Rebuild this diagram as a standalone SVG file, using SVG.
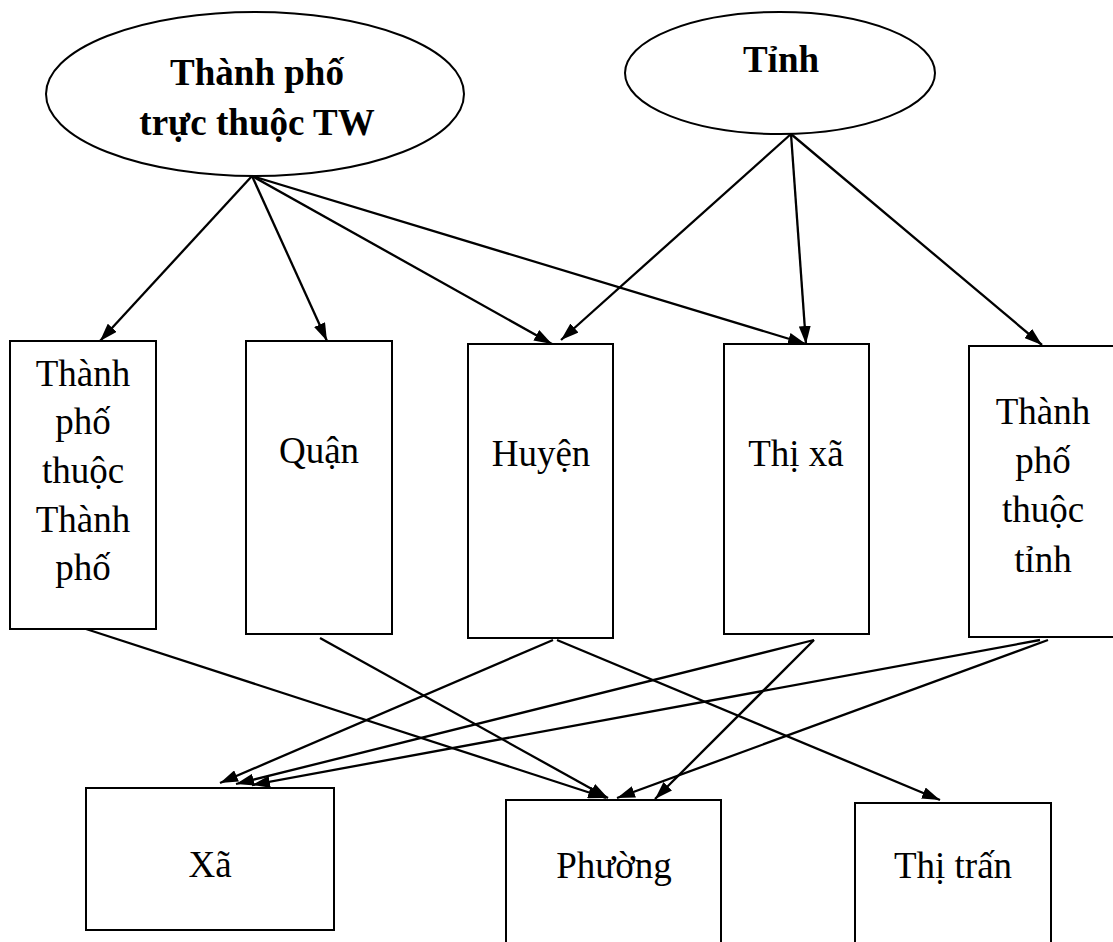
<svg xmlns="http://www.w3.org/2000/svg" width="1113" height="942" viewBox="0 0 1113 942">
<defs>
<marker id="arr" viewBox="0 0 18 12" refX="18" refY="6" markerWidth="18" markerHeight="12" markerUnits="userSpaceOnUse" orient="auto">
<path d="M0,0 L18,6 L0,12 Z" fill="#000"/>
</marker>
<style>
.ell{fill:#fff;stroke:#000;stroke-width:2}
.box{fill:#fff;stroke:#000;stroke-width:2}
.t{font-family:"Liberation Serif","Times New Roman",serif;font-size:37px;fill:#000;text-anchor:middle}
.tb{font-family:"Liberation Serif","Times New Roman",serif;font-size:37px;font-weight:bold;fill:#000;text-anchor:middle}
.c{stroke:#000;stroke-width:2.3;fill:none;marker-end:url(#arr)}
</style>
</defs>
<rect width="1113" height="942" fill="#fff"/>
<g id="tw">
<ellipse class="ell" cx="255" cy="94" rx="209" ry="82"/>
<text class="tb" x="257" y="85">Thành phố</text>
<text class="tb" x="257" y="135">trực thuộc TW</text>
</g>
<g id="tinh">
<ellipse class="ell" cx="780" cy="73" rx="155" ry="61"/>
<text class="tb" x="781" y="72">Tỉnh</text>
</g>
<g id="tp-thuoc-tp">
<rect class="box" x="10" y="341" width="146" height="288"/>
<text class="t" x="83" y="386">Thành</text>
<text class="t" x="83" y="434">phố</text>
<text class="t" x="83" y="483">thuộc</text>
<text class="t" x="83" y="532">Thành</text>
<text class="t" x="83" y="580">phố</text>
</g>
<g id="quan">
<rect class="box" x="246" y="341" width="146" height="293"/>
<text class="t" x="319" y="463">Quận</text>
</g>
<g id="huyen">
<rect class="box" x="468" y="344" width="145" height="294"/>
<text class="t" x="541" y="466">Huyện</text>
</g>
<g id="thixa">
<rect class="box" x="724" y="344" width="145" height="290"/>
<text class="t" x="796" y="466">Thị xã</text>
</g>
<g id="tp-thuoc-tinh">
<rect class="box" x="969" y="346" width="146" height="291"/>
<text class="t" x="1043" y="424">Thành</text>
<text class="t" x="1043" y="473">phố</text>
<text class="t" x="1043" y="522">thuộc</text>
<text class="t" x="1043" y="572">tỉnh</text>
</g>
<g id="xa">
<rect class="box" x="86" y="788" width="248" height="142"/>
<text class="t" x="210" y="877">Xã</text>
</g>
<g id="phuong">
<rect class="box" x="506" y="800" width="215" height="150"/>
<text class="t" x="614" y="878">Phường</text>
</g>
<g id="thitran">
<rect class="box" x="855" y="803" width="196" height="150"/>
<text class="t" x="953" y="878">Thị trấn</text>
</g>
<g id="connectors">
<line class="c" x1="252" y1="176" x2="100" y2="341"/>
<line class="c" x1="252" y1="176" x2="327" y2="341"/>
<line class="c" x1="252" y1="176" x2="552" y2="344"/>
<line class="c" x1="252" y1="176" x2="806" y2="344"/>
<line class="c" x1="791" y1="134" x2="561" y2="340"/>
<line class="c" x1="791" y1="134" x2="806" y2="344"/>
<line class="c" x1="791" y1="134" x2="1042" y2="345"/>
<line class="c" x1="86" y1="629" x2="606" y2="798"/>
<line class="c" x1="320" y1="638" x2="608" y2="798"/>
<line class="c" x1="553" y1="640" x2="220" y2="783"/>
<line class="c" x1="557" y1="640" x2="940" y2="800"/>
<line class="c" x1="814" y1="640" x2="236" y2="784"/>
<line class="c" x1="814" y1="640" x2="655" y2="799"/>
<line class="c" x1="1040" y1="640" x2="252" y2="785"/>
<line class="c" x1="1048" y1="640" x2="617" y2="798"/>
</g>
</svg>
